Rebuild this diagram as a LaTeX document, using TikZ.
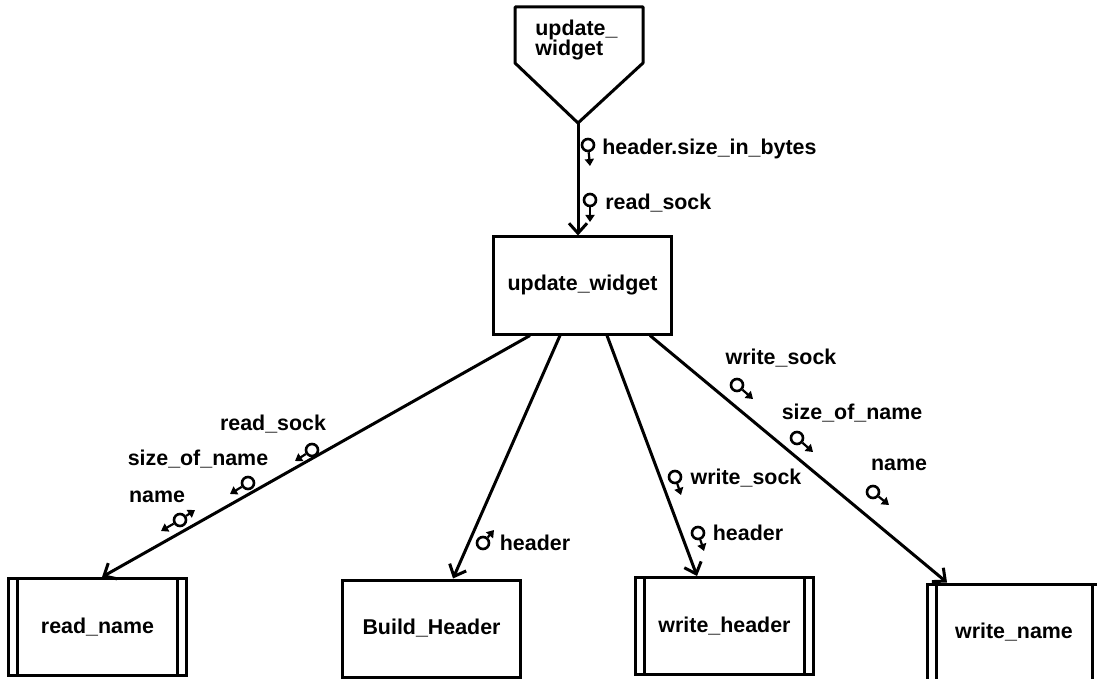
\documentclass[tikz,border=0pt]{standalone}
\usepackage{fontspec}
\setmainfont{Liberation Sans}
\usetikzlibrary{arrows.meta,positioning,calc}
\tikzset{
  modbox/.style={draw,line width=1.5pt,minimum width=89pt,minimum height=48.5pt,inner sep=0pt,
    font=\fontsize{10.7}{10}\selectfont\bfseries},
  libbox/.style={modbox,path picture={
      \draw[line width=1.5pt] ([xshift=4.5pt]path picture bounding box.north west)
        -- ([xshift=4.5pt]path picture bounding box.south west);
      \draw[line width=1.5pt] ([xshift=-4.5pt]path picture bounding box.north east)
        -- ([xshift=-4.5pt]path picture bounding box.south east);}},
  lbl/.style={font=\fontsize{10.7}{10}\selectfont\bfseries,inner sep=0pt,text height=7.7pt,text depth=0pt},
  cpl/.style={circle,draw,line width=1.3pt,minimum size=6pt,inner sep=0pt,fill=white},
  cplarr/.style={line width=1.1pt,-{Triangle[length=3.5pt,width=4.5pt]}},
  call/.style={line width=1.5pt,-{Straight Barb[length=5pt,width=9pt]}},
}

\begin{document}
\begin{tikzpicture}[x=0.5pt,y=-0.5pt]
\useasboundingbox (0,0) rectangle (1097,679);
% off-page connector
\draw[line width=1.5pt,line join=round] (515,7) -- (643,7) -- (643,63) -- (578,123) coordinate (conn)
  -- (515,63) -- cycle;
\node[lbl,align=left,anchor=west,text height=,text depth=] (connlbl) at (535,40) {update\_\\widget};
% modules
\node[modbox] (main) at (582.5,285.5) {update\_widget};
\node[libbox] (rn) at (97.5,627) {read\_name};
\node[modbox] (bh) at (431.5,628.5) {Build\_Header};
\node[libbox] (wh) at (724.5,626) {write\_header};
\node[libbox,minimum width=87pt] (wn) at (1014,632.5) {write\_name};
% calls
\draw[call] (conn) -- (conn |- main.north);
\draw[call] ($(main.south)+(-52.5,0)$) -- ($(rn.north)+(4.5,0)$);
\draw[call] ($(main.south)+(-22.5,0)$) -- ($(bh.north)+(21.5,0)$);
\draw[call] ($(main.south)+(24.5,0)$) -- ($(wh.north)+(-27.5,0)$);
\draw[call] ($(main.south)+(67.5,0)$) -- ($(wn.north)+(-67,0)$);
% couples: connector -> update_widget
\node[cpl] (k1) at (588,145) {};
\draw[cplarr] (k1) -- ++(2,21);
\node[lbl,anchor=west] (t1) at (602,147) {header.size\_in\_bytes};
\node[cpl] (k2) at (590,200) {};
\draw[cplarr] (k2) -- ++(0,22);
\node[lbl,anchor=west] (t2) at (605,202) {read\_sock};
% couples: read_name
\node[cpl] (k3) at (312,450) {};
\draw[cplarr] (k3) -- ++(-17,11);
\node[lbl] (t3) at (273,423) {read\_sock};
\node[cpl] (k4) at (248,483) {};
\draw[cplarr] (k4) -- ++(-18,11);
\node[lbl] (t4) at (198,458) {size\_of\_name};
\node[cpl] (k5) at (180,520) {};
\draw[cplarr] (k5) -- ++(-19,11);
\draw[cplarr] (k5) -- ++(15,-10);
\node[lbl] (t5) at (157,495) {name};
% couples: Build_Header
\node[cpl] (k6) at (483,543) {};
\draw[cplarr] (k6) -- ++(11,-13);
\node[lbl] (t6) at (535,543) {header};
% couples: write_header
\node[cpl] (k7) at (675,477) {};
\draw[cplarr] (k7) -- ++(6,18);
\node[lbl] (t7) at (746,477) {write\_sock};
\node[cpl] (k8) at (698,533) {};
\draw[cplarr] (k8) -- ++(6,18);
\node[lbl] (t8) at (748,533) {header};
% couples: write_name
\node[cpl] (k9) at (737,385) {};
\draw[cplarr] (k9) -- ++(16,14);
\node[lbl] (t9) at (781,357) {write\_sock};
\node[cpl] (k10) at (797,438) {};
\draw[cplarr] (k10) -- ++(16,14);
\node[lbl] (t10) at (852,412) {size\_of\_name};
\node[cpl] (k11) at (873,492) {};
\draw[cplarr] (k11) -- ++(16,13);
\node[lbl] (t11) at (899,463) {name};
\end{tikzpicture}
\end{document}
